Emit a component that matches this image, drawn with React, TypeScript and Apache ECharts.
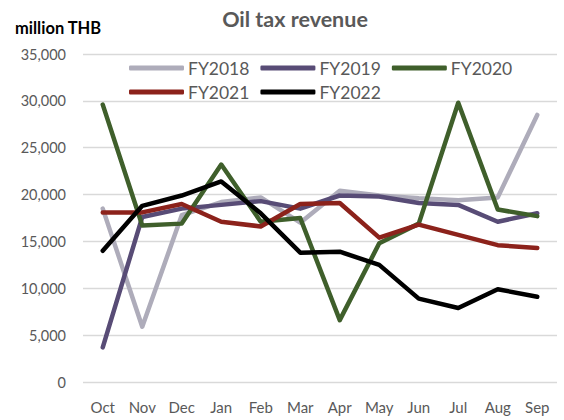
import React, { useEffect, useRef } from "react";
import * as echarts from "echarts";

const months = ["Oct", "Nov", "Dec", "Jan", "Feb", "Mar", "Apr", "May", "Jun", "Jul", "Aug", "Sep"];
const fy2018 = [18500, 5900, 17800, 19200, 19700, 17000, 20400, 19900, 19600, 19400, 19700, 28500];
const fy2019 = [3700, 17600, 18500, 18900, 19300, 18500, 19900, 19800, 19100, 18900, 17100, 18000];
const fy2020 = [29600, 16700, 16900, 23200, 17100, 17500, 6600, 14800, 16900, 29800, 18400, 17700];
const fy2021 = [18100, 18100, 19000, 17100, 16600, 19000, 19100, 15400, 16800, 15700, 14600, 14300];
const fy2022 = [14000, 18800, 19900, 21400, 18000, 13800, 13900, 12500, 8900, 7900, 9900, 9100];
const yTicks = [0, 5000, 10000, 15000, 20000, 25000, 30000, 35000];

const seriesDefs = [
  { name: "FY2018", data: fy2018, color: "#AEACBA" },
  { name: "FY2019", data: fy2019, color: "#584C76" },
  { name: "FY2020", data: fy2020, color: "#3F5F2B" },
  { name: "FY2021", data: fy2021, color: "#8C221B" },
  { name: "FY2022", data: fy2022, color: "#000000" },
];

const FONT = "Lato, 'Noto Sans', sans-serif";

export default function App() {
  const ref = useRef<HTMLDivElement>(null);
  useEffect(() => {
    if (!ref.current) return;
    const chart = echarts.init(ref.current, null, { renderer: "svg" });
    const legendCommon = {
      itemWidth: 55,
      itemHeight: 5,
      itemGap: 11,
      icon: "roundRect",
      textStyle: { color: "#595959", fontSize: 17.5, fontFamily: FONT, padding: [0, 0, 0, -1] },
      left: 124,
      orient: "horizontal",
    };
    chart.setOption({
      animation: false,
      backgroundColor: "#ffffff",
      textStyle: { fontFamily: FONT },
      title: [
        {
          text: "Oil tax revenue",
          left: 290,
          textAlign: "center",
          top: 3,
          textStyle: { color: "#595959", fontSize: 21.5, fontWeight: "bold", fontFamily: FONT },
        },
        {
          text: "million THB",
          left: 10,
          top: 14,
          textStyle: { color: "#000000", fontSize: 16.5, fontWeight: "bold", fontFamily: FONT },
        },
      ],
      legend: [
        { ...legendCommon, top: 54, data: ["FY2018", "FY2019", "FY2020"] },
        { ...legendCommon, top: 78, data: ["FY2021", "FY2022"] },
      ],
      grid: { left: 83, right: 7, top: 54, bottom: 38 },
      xAxis: {
        type: "category",
        data: months,
        boundaryGap: true,
        axisLine: { show: false },
        axisTick: { show: false },
        axisLabel: { color: "#595959", fontSize: 15, fontFamily: FONT, margin: 17 },
      },
      yAxis: {
        type: "value",
        min: yTicks[0],
        max: yTicks[yTicks.length - 1],
        interval: 5000,
        axisLine: { show: false },
        axisTick: { show: false },
        splitLine: { lineStyle: { color: "#D9D9D9", width: 1.3 } },
        axisLabel: {
          color: "#595959",
          fontSize: 14.5,
          fontFamily: FONT,
          margin: 17,
          formatter: (v: number) => v.toLocaleString("en-US"),
        },
      },
      series: seriesDefs.map((s) => ({
        name: s.name,
        type: "line",
        data: s.data,
        showSymbol: false,
        symbol: "none",
        lineStyle: { color: s.color, width: 4.5, cap: "round", join: "round" },
        itemStyle: { color: s.color },
      })),
    });
    return () => chart.dispose();
  }, []);
  return <div ref={ref} style={{ position: "absolute", left: 0, top: 0, width: 564, height: 420 }} />;
}
